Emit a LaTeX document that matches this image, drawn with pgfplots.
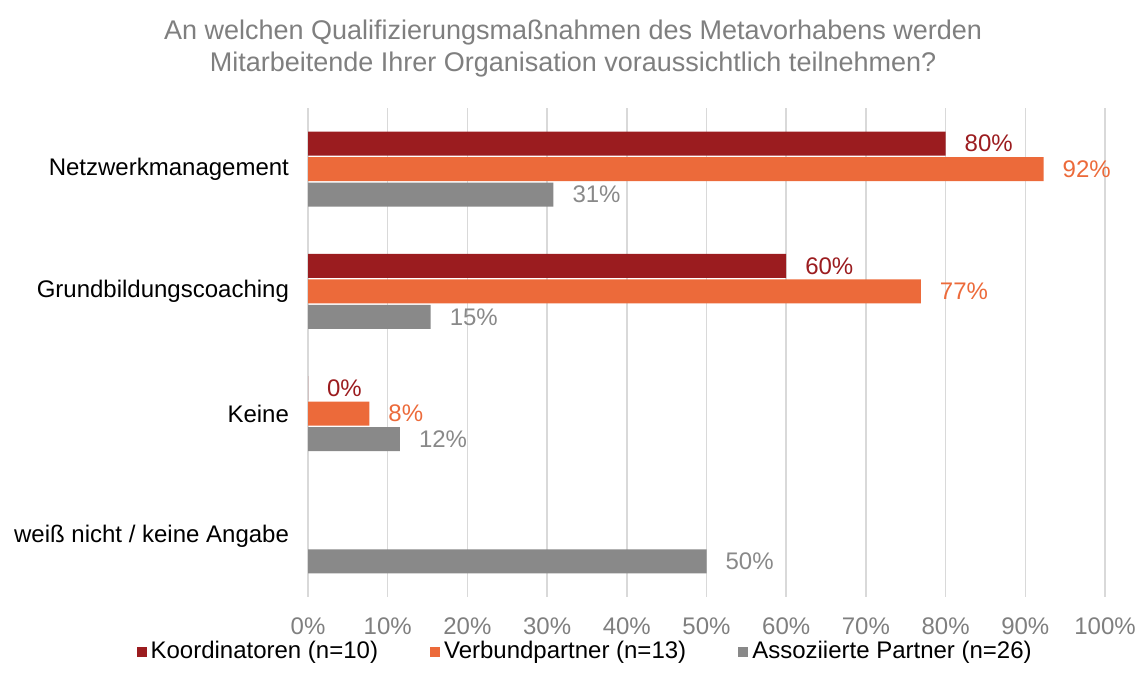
\documentclass[border=0pt]{standalone}
\usepackage{fontspec}
\setmainfont{Liberation Sans}
\usepackage{pgfplots}
\pgfplotsset{compat=1.18}
\definecolor{koord}{HTML}{9B1C1F}
\definecolor{verb}{HTML}{EC6A3A}
\definecolor{asso}{HTML}{898989}
\definecolor{txtgray}{HTML}{7F7F7F}
\definecolor{gridc}{HTML}{D9D9D9}
\begin{document}
\begin{tikzpicture}
\useasboundingbox (0,0) rectangle (572pt,344.5pt);
\node[align=center, text=txtgray, font=\fontsize{13.5}{16}\selectfont] at (286.5pt,320pt)
  {An welchen Qualifizierungsmaßnahmen des Metavorhabens werden\\Mitarbeitende Ihrer Organisation voraussichtlich teilnehmen?};
\begin{axis}[
    at={(154pt,46pt)}, anchor=south west,
    scale only axis,
    width=398.5pt, height=244.5pt,
    xbar, bar width=12pt,
    xmin=0, xmax=100,
    ymin=-0.5, ymax=3.5,
    y dir=reverse,
    xtick={0,10,...,100},
    xticklabel={\pgfmathprintnumber{\tick}\%},
    ytick={0,1,2,3},
    yticklabels={Netzwerkmanagement, Grundbildungscoaching, Keine, weiß nicht / keine Angabe},
    /pgf/number format/assume math mode=true,
    xticklabel style={text=txtgray, font=\fontsize{12}{14}\selectfont, yshift=-7pt},
    yticklabel style={text=black, font=\fontsize{12}{14}\selectfont, xshift=-6pt},
    axis line style={draw=none},
    major tick length=0pt,
    xmajorgrids, grid style={gridc, line width=0.75pt},
    nodes near coords={\pgfmathprintnumber[fixed,precision=0]{\pgfplotspointmeta}\%},
    every node near coord/.append style={font=\fontsize{12}{14}\selectfont, xshift=6pt},
    legend columns=3,
    legend style={at={(0.349,-0.112)}, anchor=center, draw=none, fill=none,
        inner sep=1pt,
        font=\fontsize{12}{14}\selectfont,
        /tikz/every even column/.append style={column sep=24pt}},
    legend image code/.code={\fill[#1] (0pt,-2.5pt) rectangle (5pt,2.5pt);},
]
\addplot[fill=koord, draw=none, bar shift=12.75pt, every node near coord/.append style={text=koord}]
  coordinates {(80,0) (60,1) (0,2)};
\addplot[fill=verb, draw=none, bar shift=0pt, every node near coord/.append style={text=verb}]
  coordinates {(92.3,0) (76.9,1) (7.7,2)};
\addplot[fill=asso, draw=none, bar shift=-12.75pt, every node near coord/.append style={text=asso}]
  coordinates {(30.8,0) (15.4,1) (11.54,2) (50,3)};
\legend{Koordinatoren (n=10), Verbundpartner (n=13), Assoziierte Partner (n=26)}
\end{axis}
\end{tikzpicture}
\end{document}
